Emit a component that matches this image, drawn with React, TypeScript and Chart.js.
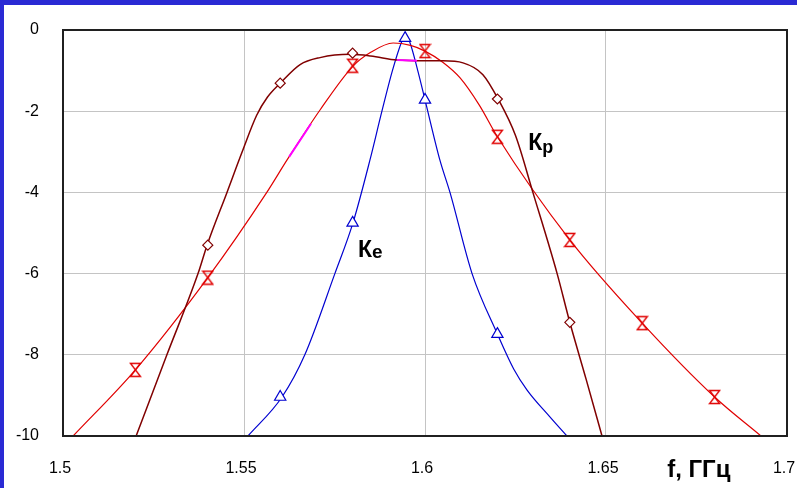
import { useEffect, useRef } from "react";
import { Chart, registerables } from "chart.js";

Chart.register(...registerables);

// Axis ticks
const xTicks = [1.5, 1.55, 1.6, 1.65, 1.7];
const yTicks = [0, -2, -4, -6, -8, -10];

// Kp (dark brown) traced curve
const brownX = [1.5202, 1.5287, 1.5373, 1.5398, 1.5453, 1.5495, 1.5535, 1.5565, 1.56, 1.5655, 1.571, 1.5793, 1.585, 1.5923, 1.6, 1.605, 1.6105, 1.616, 1.6202, 1.625, 1.6298, 1.6365, 1.64, 1.6445, 1.6489];
const brownY = [-10, -8.0, -6.0, -5.3, -4.0, -3.0, -2.1, -1.65, -1.31, -0.85, -0.68, -0.6, -0.64, -0.74, -0.76, -0.76, -0.81, -1.1, -1.7, -2.6, -4.0, -6.0, -7.2, -8.6, -10];
// Kp (dark brown) diamond markers
const brownMarkX = [1.54, 1.56, 1.58, 1.62, 1.64];
const brownMarkY = [-5.3, -1.31, -0.57, -1.7, -7.2];

// Red curve
const redX = [1.5028, 1.52, 1.54, 1.5563, 1.5619, 1.571, 1.58, 1.585, 1.5912, 1.596, 1.6, 1.605, 1.6097, 1.615, 1.62, 1.64, 1.66, 1.68, 1.6928];
const redY = [-10, -8.37, -6.1, -4.0, -3.2, -1.97, -0.9, -0.55, -0.32, -0.38, -0.52, -0.8, -1.18, -1.85, -2.63, -5.17, -7.22, -9.04, -10];
// Red hourglass markers
const redMarkX = [1.52, 1.54, 1.58, 1.6, 1.62, 1.64, 1.66, 1.68];
const redMarkY = [-8.37, -6.1, -0.88, -0.52, -2.63, -5.17, -7.22, -9.04];

// Ke (blue) traced curve
const blueX = [1.5511, 1.5605, 1.5668, 1.5751, 1.5801, 1.5848, 1.5881, 1.591, 1.5935, 1.5945, 1.5958, 1.598, 1.6, 1.6041, 1.6069, 1.613, 1.62, 1.6245, 1.6282, 1.6345, 1.6392];
const blueY = [-10, -9.04, -8.0, -6.0, -4.75, -3.2, -2.0, -1.0, -0.3, -0.12, -0.3, -1.0, -1.72, -3.2, -4.0, -6.0, -7.49, -8.35, -8.87, -9.53, -10];
// Ke (blue) triangle markers
const blueMarkX = [1.56, 1.58, 1.5945, 1.6, 1.62];
const blueMarkY = [-9.04, -4.75, -0.2, -1.72, -7.49];

// Magenta highlight segments (null = gap)
const magentaX = [1.5625, 1.5685, 1.5705, 1.5923, 1.5978];
const magentaY = [-3.12, -2.31, null, -0.74, -0.76];

const zip = (xs: number[], ys: (number | null)[]) => xs.map((x, i) => ({ x, y: ys[i] }));

const FONT = "'Liberation Sans', Arial, sans-serif";

function makeHourglass(color: string): HTMLCanvasElement {
  const c = document.createElement("canvas");
  c.width = 13;
  c.height = 16;
  const g = c.getContext("2d")!;
  g.strokeStyle = color;
  g.lineWidth = 1.4;
  g.beginPath();
  g.moveTo(1.5, 1.5);
  g.lineTo(11.5, 1.5);
  g.lineTo(1.5, 14.5);
  g.lineTo(11.5, 14.5);
  g.closePath();
  g.stroke();
  return c;
}

const labelPlugin = {
  id: "curveLabels",
  afterDraw(chart: any) {
    const { ctx, chartArea, scales } = chart;
    const xs = scales.x;
    const ys = scales.y;
    ctx.save();
    // frame
    ctx.strokeStyle = "#202020";
    ctx.lineWidth = 2;
    ctx.strokeRect(chartArea.left, chartArea.top, chartArea.right - chartArea.left, chartArea.bottom - chartArea.top);

    ctx.fillStyle = "#000";
    ctx.textAlign = "left";
    ctx.textBaseline = "alphabetic";
    // Kp
    let px = xs.getPixelForValue(1.6285);
    let py = ys.getPixelForValue(-2.96);
    ctx.font = `bold 23px ${FONT}`;
    ctx.fillText("К", px, py);
    let w = ctx.measureText("К").width;
    ctx.font = `bold 18px ${FONT}`;
    ctx.fillText("р", px + w, py + 3);
    // Ke
    px = xs.getPixelForValue(1.5815);
    py = ys.getPixelForValue(-5.59);
    ctx.font = `bold 23px ${FONT}`;
    ctx.fillText("К", px, py);
    w = ctx.measureText("К").width;
    ctx.font = `bold 19px ${FONT}`;
    ctx.fillText("е", px + w, py + 1);
    // axis label
    px = xs.getPixelForValue(1.6669);
    py = chartArea.bottom + 41;
    ctx.font = `bold 24px ${FONT}`;
    ctx.fillText("f, ГГц", px, py);
    ctx.restore();
  },
};

export default function App() {
  const ref = useRef<HTMLCanvasElement | null>(null);

  useEffect(() => {
    if (!ref.current) return;
    const hourglass = makeHourglass("#e00000");
    const chart = new Chart(ref.current, {
      type: "line",
      data: {
        datasets: [
          {
            data: zip(brownMarkX, brownMarkY),
            showLine: false,
            pointStyle: "rectRot",
            pointRadius: 5,
            pointBorderWidth: 1.2,
            pointBorderColor: "#800000",
            pointBackgroundColor: "#ffffff",
            order: 0,
          },
          {
            data: zip(redMarkX, redMarkY),
            showLine: false,
            pointStyle: hourglass,
            pointRadius: 7,
            order: 0,
          },
          {
            data: zip(blueMarkX, blueMarkY),
            showLine: false,
            pointStyle: "triangle",
            pointRadius: 6.5,
            pointBorderWidth: 1.2,
            pointBorderColor: "#0000d0",
            pointBackgroundColor: "#ffffff",
            order: 0,
          },
          {
            data: zip(magentaX, magentaY),
            borderColor: "#ff00ff",
            borderWidth: 2,
            pointRadius: 0,
            spanGaps: false,
            order: 1,
          },
          {
            data: zip(brownX, brownY),
            borderColor: "#800000",
            borderWidth: 1.5,
            pointRadius: 0,
            cubicInterpolationMode: "monotone",
            order: 2,
          },
          {
            data: zip(redX, redY),
            borderColor: "#e00000",
            borderWidth: 1.2,
            pointRadius: 0,
            cubicInterpolationMode: "monotone",
            order: 2,
          },
          {
            data: zip(blueX, blueY),
            borderColor: "#0000d0",
            borderWidth: 1.2,
            pointRadius: 0,
            cubicInterpolationMode: "monotone",
            order: 2,
          },
        ],
      },
      options: {
        animation: false,
        responsive: false,
        devicePixelRatio: 1,
        events: [],
        layout: { padding: { left: 0, top: 25, right: 10, bottom: 0 } },
        plugins: { legend: { display: false }, tooltip: { enabled: false } },
        scales: {
          x: {
            type: "linear",
            min: 1.5,
            max: 1.7,
            afterBuildTicks: (s: any) => {
              s.ticks = xTicks.map((v) => ({ value: v }));
            },
            afterFit: (s: any) => {
              s.height = 52;
              s.paddingLeft = 0;
              s.paddingRight = 0;
            },
            grid: { color: "#c4c4c4", lineWidth: 1, drawTicks: false },
            border: { display: false },
            ticks: {
              padding: 23,
              labelOffset: -3,
              maxRotation: 0,
              autoSkip: false,
              color: "#000",
              font: { family: FONT, size: 16 },
              callback: (v: any) => String(v),
            },
          },
          y: {
            type: "linear",
            min: -10,
            max: 0,
            afterBuildTicks: (s: any) => {
              s.ticks = yTicks.map((v) => ({ value: v }));
            },
            afterFit: (s: any) => {
              s.width = 59;
              s.paddingTop = 0;
              s.paddingBottom = 0;
            },
            grid: { color: "#c4c4c4", lineWidth: 1, drawTicks: false },
            border: { display: false },
            ticks: {
              padding: 24,
              autoSkip: false,
              color: "#000",
              font: { family: FONT, size: 16 },
              callback: (v: any) => String(v),
            },
          },
        },
      },
      plugins: [labelPlugin],
    } as any);
    return () => chart.destroy();
  }, []);

  return (
    <div
      style={{
        position: "fixed",
        left: 0,
        top: 0,
        width: 797,
        height: 488,
        background: "#2a2ad4",
        overflow: "hidden",
      }}
    >
      <div
        style={{
          position: "absolute",
          left: 4,
          top: 5,
          width: 793,
          height: 483,
          background: "#ffffff",
        }}
      >
        <canvas ref={ref} width={793} height={483} style={{ display: "block", width: 793, height: 483 }} />
      </div>
    </div>
  );
}
